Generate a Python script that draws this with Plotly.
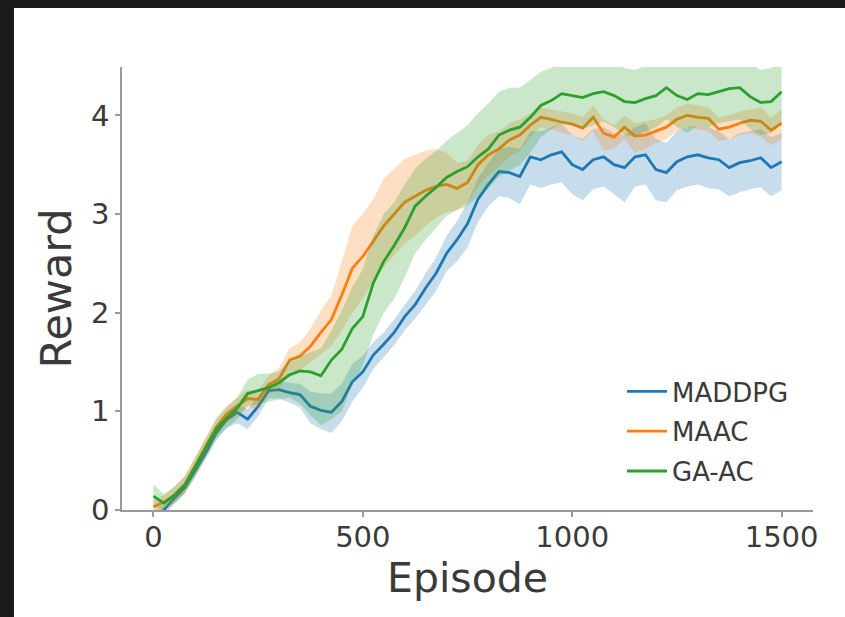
import plotly.graph_objects as go

episodes = list(range(0, 1501, 25))

maddpg = [-0.08, 0.00, 0.12, 0.23, 0.40, 0.58, 0.78, 0.92, 0.99, 0.92,
          1.05, 1.21, 1.22, 1.19, 1.17, 1.05, 1.01, 0.99, 1.10, 1.30,
          1.40, 1.57, 1.68, 1.80, 1.96, 2.08, 2.25, 2.40, 2.60, 2.74,
          2.90, 3.15, 3.30, 3.43, 3.42, 3.38, 3.58, 3.55, 3.60, 3.63,
          3.50, 3.45, 3.55, 3.58, 3.50, 3.47, 3.58, 3.60, 3.45, 3.42,
          3.53, 3.58, 3.60, 3.57, 3.55, 3.47, 3.52, 3.54, 3.57, 3.47, 3.53]
maddpg_lo = [-0.15, -0.06, 0.06, 0.17, 0.33, 0.51, 0.70, 0.83, 0.88, 0.82,
             0.95, 1.13, 1.13, 1.09, 1.04, 0.88, 0.82, 0.78, 0.90, 1.10,
             1.24, 1.43, 1.55, 1.67, 1.82, 1.94, 2.08, 2.22, 2.42, 2.52,
             2.66, 2.92, 3.08, 3.18, 3.16, 3.10, 3.30, 3.26, 3.30, 3.32,
             3.20, 3.14, 3.25, 3.28, 3.20, 3.12, 3.28, 3.30, 3.14, 3.12,
             3.24, 3.28, 3.30, 3.26, 3.25, 3.18, 3.22, 3.25, 3.27, 3.18, 3.24]
maddpg_hi = [0.00, 0.05, 0.18, 0.29, 0.47, 0.65, 0.86, 1.00, 1.08, 1.02,
             1.15, 1.29, 1.31, 1.29, 1.28, 1.20, 1.18, 1.18, 1.28, 1.48,
             1.56, 1.70, 1.80, 1.93, 2.08, 2.22, 2.40, 2.56, 2.78, 2.93,
             3.12, 3.36, 3.52, 3.66, 3.68, 3.66, 3.84, 3.84, 3.88, 3.92,
             3.80, 3.76, 3.86, 3.88, 3.82, 3.80, 3.88, 3.92, 3.76, 3.72,
             3.84, 3.88, 3.90, 3.88, 3.84, 3.76, 3.82, 3.84, 3.86, 3.78, 3.82]

maac = [0.03, 0.08, 0.15, 0.26, 0.45, 0.65, 0.84, 0.97, 1.05, 1.13,
        1.12, 1.27, 1.33, 1.52, 1.56, 1.66, 1.80, 1.93, 2.18, 2.45,
        2.57, 2.72, 2.88, 3.00, 3.12, 3.18, 3.24, 3.28, 3.30, 3.26,
        3.32, 3.50, 3.60, 3.66, 3.75, 3.80, 3.90, 3.98, 3.96, 3.93,
        3.91, 3.87, 3.98, 3.82, 3.78, 3.88, 3.79, 3.80, 3.84, 3.88,
        3.96, 4.00, 3.98, 3.97, 3.86, 3.88, 3.92, 3.95, 3.94, 3.85, 3.92]
maac_lo = [-0.05, 0.01, 0.07, 0.17, 0.36, 0.56, 0.75, 0.88, 0.96, 1.04,
           1.03, 1.18, 1.22, 1.40, 1.42, 1.50, 1.58, 1.66, 1.82, 2.00,
           2.14, 2.32, 2.46, 2.58, 2.70, 2.78, 2.88, 2.96, 3.02, 3.04,
           3.12, 3.28, 3.40, 3.48, 3.58, 3.64, 3.78, 3.88, 3.86, 3.82,
           3.80, 3.74, 3.84, 3.64, 3.66, 3.76, 3.62, 3.66, 3.72, 3.76,
           3.84, 3.88, 3.86, 3.84, 3.74, 3.76, 3.80, 3.82, 3.78, 3.70, 3.76]
maac_hi = [0.10, 0.15, 0.23, 0.35, 0.54, 0.74, 0.93, 1.06, 1.14, 1.22,
           1.21, 1.36, 1.44, 1.64, 1.70, 1.84, 2.02, 2.18, 2.52, 2.88,
           3.00, 3.15, 3.36, 3.46, 3.56, 3.60, 3.64, 3.66, 3.62, 3.52,
           3.54, 3.70, 3.80, 3.84, 3.92, 3.96, 4.02, 4.08, 4.06, 4.04,
           4.02, 3.98, 4.10, 3.96, 3.90, 4.00, 3.92, 3.94, 3.96, 4.00,
           4.08, 4.12, 4.10, 4.08, 3.98, 4.00, 4.04, 4.06, 4.08, 3.98, 4.06]

gaac = [0.14, 0.07, 0.15, 0.25, 0.44, 0.63, 0.82, 0.93, 1.03, 1.18,
        1.21, 1.24, 1.29, 1.37, 1.41, 1.40, 1.36, 1.52, 1.63, 1.84,
        1.96, 2.30, 2.52, 2.68, 2.86, 3.08, 3.18, 3.27, 3.37, 3.43,
        3.48, 3.58, 3.66, 3.80, 3.85, 3.88, 3.98, 4.10, 4.15, 4.22,
        4.20, 4.18, 4.22, 4.24, 4.20, 4.14, 4.13, 4.17, 4.20, 4.28,
        4.20, 4.16, 4.22, 4.21, 4.24, 4.27, 4.28, 4.19, 4.13, 4.14, 4.24]
gaac_lo = [0.04, 0.00, 0.07, 0.17, 0.35, 0.54, 0.73, 0.83, 0.92, 1.06,
           1.07, 1.10, 1.12, 1.14, 1.08, 0.96, 0.86, 0.92, 1.00, 1.28,
           1.46, 1.78, 2.00, 2.14, 2.36, 2.60, 2.74, 2.86, 2.98, 3.04,
           3.08, 3.18, 3.26, 3.38, 3.44, 3.50, 3.62, 3.78, 3.86, 3.92,
           3.90, 3.86, 3.90, 3.94, 3.88, 3.80, 3.78, 3.84, 3.88, 3.96,
           3.88, 3.82, 3.90, 3.88, 3.92, 3.94, 3.96, 3.86, 3.80, 3.82, 3.92]
gaac_hi = [0.26, 0.16, 0.24, 0.34, 0.53, 0.72, 0.92, 1.04, 1.14, 1.32,
           1.38, 1.38, 1.40, 1.52, 1.56, 1.60, 1.64, 1.82, 2.02, 2.26,
           2.44, 2.78, 3.00, 3.12, 3.30, 3.46, 3.56, 3.64, 3.74, 3.82,
           3.90, 4.02, 4.12, 4.24, 4.28, 4.28, 4.36, 4.44, 4.48, 4.55,
           4.52, 4.50, 4.54, 4.56, 4.52, 4.48, 4.46, 4.50, 4.52, 4.60,
           4.52, 4.50, 4.54, 4.54, 4.56, 4.60, 4.60, 4.52, 4.46, 4.48, 4.56]

x_ticks = [0, 500, 1000, 1500]
y_ticks = [0, 1, 2, 3, 4]

series = [
    ("MADDPG", maddpg, maddpg_lo, maddpg_hi, "#1f77b4", "rgba(31,119,180,0.25)"),
    ("MAAC", maac, maac_lo, maac_hi, "#ff7f0e", "rgba(255,127,14,0.25)"),
    ("GA-AC", gaac, gaac_lo, gaac_hi, "#2ca02c", "rgba(44,160,44,0.25)"),
]

FONT = "DejaVu Sans"
TXT = "#3a3a3a"
AX = "#9a9a9a"

fig = go.Figure()
for name, mean, lo, hi, col, fcol in series:
    fig.add_trace(go.Scatter(x=episodes, y=lo, mode="lines", line=dict(width=0),
                             hoverinfo="skip", showlegend=False))
    fig.add_trace(go.Scatter(x=episodes, y=hi, mode="lines", line=dict(width=0),
                             fill="tonexty", fillcolor=fcol,
                             hoverinfo="skip", showlegend=False))
    fig.add_trace(go.Scatter(x=episodes, y=mean, mode="lines", name=name,
                             legendgroup=name,
                             line=dict(color=col, width=2.8)))

W, H = 845, 617
ml, mr, mt, mb = 122, 32, 67, 107
pw, ph = W - ml - mr, H - mt - mb

def px_x(p):
    return (p - ml) / pw

def px_y(p):
    return (H - mb - p) / ph

fig.update_layout(
    width=W, height=H,
    margin=dict(l=ml, r=mr, t=mt, b=mb, pad=0),
    paper_bgcolor="white", plot_bgcolor="white",
    font=dict(family=FONT, color=TXT),
    xaxis=dict(range=[-75, 1575], tickvals=x_ticks, showgrid=False, zeroline=False,
               showline=True, linecolor=AX, linewidth=1.5,
               ticks="outside", ticklen=5, tickwidth=1.5, tickcolor=AX,
               ticklabelstandoff=-5,
               tickfont=dict(size=29, family=FONT, color=TXT),
               title=dict(text="Episode", font=dict(size=41, family=FONT, color=TXT), standoff=2)),
    yaxis=dict(range=[0, 4.49], tickvals=y_ticks, showgrid=False, zeroline=False,
               showline=True, linecolor=AX, linewidth=1.5,
               ticks="outside", ticklen=5, tickwidth=1.5, tickcolor=AX,
               tickfont=dict(size=29, family=FONT, color=TXT),
               title=dict(text="Reward", font=dict(size=43, family=FONT, color=TXT), standoff=6)),
    legend=dict(x=px_x(622), y=px_y(368), xanchor="left", yanchor="top",
                bgcolor="rgba(255,255,255,0)", borderwidth=0,
                font=dict(size=26, family=FONT, color=TXT),
                traceorder="grouped", tracegroupgap=3, itemwidth=40),
    shapes=[
        dict(type="rect", xref="paper", yref="paper",
             x0=px_x(0), x1=px_x(14), y0=px_y(H), y1=px_y(0),
             fillcolor="#1a1a1a", line=dict(width=0), layer="above"),
        dict(type="rect", xref="paper", yref="paper",
             x0=px_x(0), x1=px_x(W), y0=px_y(8), y1=px_y(0),
             fillcolor="#1a1a1a", line=dict(width=0), layer="above"),
    ],
)

fig.write_html("out.html",
               config={"displayModeBar": False},
               post_script="document.body.style.margin='0';document.body.style.overflow='hidden';"
                           "document.documentElement.style.overflow='hidden';")
